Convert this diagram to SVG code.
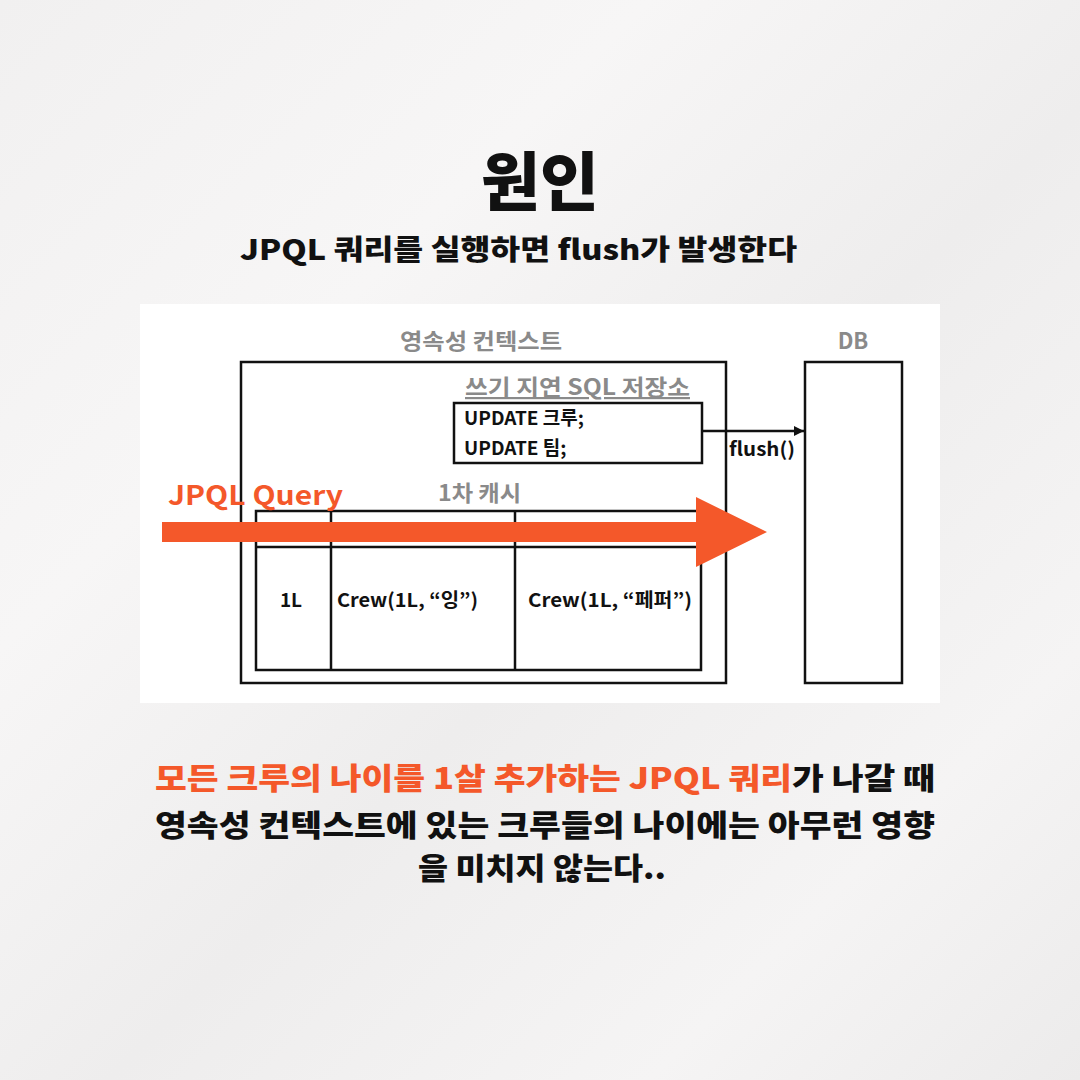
<svg xmlns="http://www.w3.org/2000/svg" width="1080" height="1080" viewBox="0 0 1080 1080">
<defs>
<linearGradient id="bg" x1="0" y1="0" x2="1" y2="1">
<stop offset="0" stop-color="#f1f0f0"/>
<stop offset="0.3" stop-color="#f7f6f6"/>
<stop offset="0.55" stop-color="#eeeded"/>
<stop offset="0.8" stop-color="#f5f4f4"/>
<stop offset="1" stop-color="#ecebeb"/>
</linearGradient>
<marker id="ah" viewBox="0 0 10 10" refX="10" refY="5" markerWidth="10" markerHeight="10" markerUnits="userSpaceOnUse" orient="auto">
<path d="M0,0 L10,5 L0,10 z" fill="#111"/>
</marker>
<style>
.hand{font-family:"Noto Sans CJK KR","Noto Sans",sans-serif;font-weight:900;fill:#111}
.gray{font-family:"Noto Sans CJK KR","Noto Sans",sans-serif;font-weight:700;fill:#8a8a8a;font-size:22px}
.cell{font-family:"Noto Sans CJK KR","Noto Sans",sans-serif;font-weight:700;fill:#111;font-size:19px}
.box{fill:#fff;stroke:#111;stroke-width:2.5}
.ln{stroke:#111;stroke-width:2.5;fill:none}
.or{fill:#f4582a}
</style>
</defs>
<rect width="1080" height="1080" fill="url(#bg)"/>
<g id="title">
<text class="hand" x="540" y="205" font-size="64" text-anchor="middle">원인</text>
<text class="hand" x="240" y="260" font-size="28" textLength="557" lengthAdjust="spacingAndGlyphs">JPQL 쿼리를 실행하면 flush가 발생한다</text>
</g>
<rect id="panel" x="140" y="304" width="800" height="399" fill="#fff"/>
<g id="persistence-context">
<text class="gray" x="400" y="349" textLength="162" lengthAdjust="spacingAndGlyphs">영속성 컨텍스트</text>
<rect class="box" x="241" y="362" width="485" height="321"/>
</g>
<g id="db">
<text class="gray" x="853" y="349" text-anchor="middle">DB</text>
<rect class="box" x="805" y="362" width="97" height="321"/>
</g>
<g id="sql-store">
<text class="gray" x="465" y="395" textLength="225" lengthAdjust="spacingAndGlyphs" text-decoration="underline">쓰기 지연 SQL 저장소</text>
<rect class="box" x="454" y="403" width="248" height="60"/>
<text class="cell" x="464" y="425">UPDATE 크루;</text>
<text class="cell" x="464" y="455">UPDATE 팀;</text>
</g>
<g id="first-cache">
<text class="gray" x="438" y="501" textLength="83" lengthAdjust="spacingAndGlyphs">1차 캐시</text>
<rect class="box" x="256" y="511" width="445" height="159"/>
<line class="ln" x1="256" y1="547" x2="701" y2="547"/>
<line class="ln" x1="331" y1="511" x2="331" y2="670"/>
<line class="ln" x1="515" y1="511" x2="515" y2="670"/>
<text class="cell" x="291" y="607" text-anchor="middle">1L</text>
<text class="cell" x="337" y="607" textLength="141" lengthAdjust="spacingAndGlyphs">Crew(1L, “잉”)</text>
<text class="cell" x="528" y="607" textLength="164" lengthAdjust="spacingAndGlyphs">Crew(1L, “페퍼”)</text>
</g>
<g id="connectors">
<line class="ln" x1="702" y1="431" x2="804" y2="431" marker-end="url(#ah)"/>
<text class="cell" x="729" y="456" textLength="66" lengthAdjust="spacingAndGlyphs">flush()</text>
</g>
<g id="jpql-query">
<polygon class="or" points="162,522 696,522 696,497 767,532 696,567 696,542 162,542"/>
<text x="168" y="505" font-family="Noto Sans CJK KR,Noto Sans,sans-serif" font-weight="700" font-size="27" fill="#f4582a" textLength="175" lengthAdjust="spacingAndGlyphs">JPQL Query</text>
</g>
<g id="caption">
<text class="hand" x="155" y="789" font-size="30" textLength="780" lengthAdjust="spacingAndGlyphs"><tspan fill="#f4582a">모든 크루의 나이를 1살 추가하는 JPQL 쿼리</tspan>가 나갈 때</text>
<text class="hand" x="155" y="836" font-size="30" textLength="780" lengthAdjust="spacingAndGlyphs">영속성 컨텍스트에 있는 크루들의 나이에는 아무런 영향</text>
<text class="hand" x="418" y="879" font-size="30" textLength="248" lengthAdjust="spacingAndGlyphs">을 미치지 않는다..</text>
</g>
</svg>
